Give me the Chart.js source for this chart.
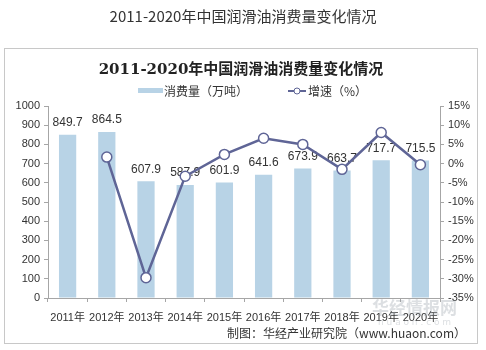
<!DOCTYPE html>
<html>
<head>
<meta charset="utf-8">
<script src="https://cdn.jsdelivr.net/npm/chart.js@4/dist/chart.umd.min.js"></script>
<style>
  html, body { margin: 0; padding: 0; background: #fff; }
  #wrap { position: relative; width: 486px; height: 350px; }
</style>
</head>
<body>
<div id="wrap"><canvas id="myChart" width="486" height="350"></canvas></div>
<script>
const years = ['2011年', '2012年', '2013年', '2014年', '2015年', '2016年', '2017年', '2018年', '2019年', '2020年'];
const consumption = [849.7, 864.5, 607.9, 587.9, 601.9, 641.6, 673.9, 663.7, 717.7, 715.5];
const growth = [null, 1.7, -29.7, -3.3, 2.4, 6.6, 5.0, -1.5, 8.1, -0.3];

const pageTitle = '2011-2020年中国润滑油消费量变化情况';
const footer = '制图：华经产业研究院（www.huaon.com）';

const barColor = 'rgb(184, 211, 230)';
const lineColor = 'rgb(95, 101, 150)';
const axisColor = '#a6a6a6';
const cjk = '"Liberation Sans", "Noto Sans CJK SC", sans-serif';

// outer title, frame, inner title, legend, footer
const decor = {
  id: 'decor',
  beforeDraw(chart) {
    const c = chart.ctx;
    c.save();
    c.fillStyle = '#fff';
    c.fillRect(0, 0, chart.width, chart.height);
    c.fillStyle = '#333';
    c.font = '15px "Noto Sans CJK SC", sans-serif';
    c.textAlign = 'center';
    c.textBaseline = 'middle';
    c.fillText(pageTitle, 243, 16);

    c.strokeStyle = '#c8c8c8';
    c.lineWidth = 1;
    c.strokeRect(4.5, 48.5, 473, 295);

    c.fillStyle = '#222';
    c.font = 'bold 15px "DejaVu Serif", "Noto Sans CJK SC", serif';
    c.fillText(pageTitle, 241, 70);

    // legend
    c.font = '12px "Noto Sans CJK SC", sans-serif';
    c.textAlign = 'left';
    c.fillStyle = barColor;
    c.fillRect(138, 88, 25, 5);
    c.fillStyle = '#333';
    c.fillText('消费量（万吨）', 164, 91);
    c.strokeStyle = lineColor;
    c.lineWidth = 2;
    c.beginPath();
    c.moveTo(288, 91);
    c.lineTo(306, 91);
    c.stroke();
    c.beginPath();
    c.arc(297, 91, 3, 0, Math.PI * 2);
    c.fillStyle = '#fff';
    c.fill();
    c.lineWidth = 1;
    c.stroke();
    c.fillStyle = '#333';
    c.fillText('增速（%）', 308, 91);

    c.textAlign = 'right';
    c.font = '12px "Noto Sans CJK SC", sans-serif';
    c.fillText(footer, 466, 333);
    c.restore();
  },
  afterDraw(chart) {
    const c = chart.ctx;
    c.save();
    c.globalAlpha = 0.35;
    c.fillStyle = '#9aa3ad';
    c.font = 'bold 17px "Noto Sans CJK SC", sans-serif';
    c.textAlign = 'left';
    c.textBaseline = 'middle';
    c.fillText('华经情报网', 372, 308);
    c.font = '9px "DejaVu Sans", sans-serif';
    c.fillText('h u a o n . c o m', 378, 323);
    c.restore();
  }
};

// value labels above the bars
const barLabels = {
  id: 'barLabels',
  afterDatasetDraw(chart, args) {
    if (args.index !== 0) return;
    const c = chart.ctx;
    const meta = chart.getDatasetMeta(0);
    c.save();
    c.fillStyle = '#333';
    c.font = '12px "Liberation Sans", sans-serif';
    c.textAlign = 'center';
    c.textBaseline = 'bottom';
    meta.data.forEach((bar, i) => {
      c.fillText(consumption[i].toFixed(1), bar.x, bar.y - 6);
    });
    c.restore();
  }
};

const ctx = document.getElementById('myChart');

const myChart = new Chart(ctx, {
  data: {
    labels: years,
    datasets: [{
      type: 'bar',
      label: '消费量（万吨）',
      data: consumption,
      backgroundColor: barColor,
      yAxisID: 'y',
      order: 1,
      barPercentage: 0.44,
      categoryPercentage: 1
    }, {
      type: 'line',
      label: '增速（%）',
      data: growth,
      borderColor: lineColor,
      borderWidth: 2.5,
      pointRadius: 5,
      pointBackgroundColor: '#fff',
      pointBorderColor: lineColor,
      pointBorderWidth: 1.5,
      yAxisID: 'y1',
      order: 0,
      tension: 0
    }]
  },
  options: {
    responsive: false,
    animation: false,
    layout: { padding: { top: 106, bottom: 24, left: 0, right: 0 } },
    plugins: {
      legend: { display: false },
      tooltip: { enabled: false }
    },
    scales: {
      x: {
        grid: { drawOnChartArea: false, tickLength: 4, color: axisColor, offset: true },
        border: { color: axisColor },
        ticks: { color: '#333', font: { family: cjk, size: 11 }, padding: 9, maxRotation: 0, autoSkip: false },
        afterFit(scale) { scale.height = 28; }
      },
      y: {
        position: 'left',
        min: 0,
        max: 1000,
        grid: { drawOnChartArea: false, tickLength: 4, color: axisColor },
        border: { color: axisColor },
        ticks: { stepSize: 100, color: '#333', font: { family: cjk, size: 11 }, padding: 4,
          callback: (v) => String(v) },
        afterFit(scale) { scale.width = 48; }
      },
      y1: {
        position: 'right',
        min: -35,
        max: 15,
        grid: { drawOnChartArea: false, tickLength: 4, color: axisColor },
        border: { color: axisColor },
        ticks: { stepSize: 5, color: '#333', font: { family: cjk, size: 11 }, padding: 4,
          callback: (v) => v + '%' },
        afterFit(scale) { scale.width = 46; }
      }
    }
  },
  plugins: [decor, barLabels]
});
</script>
</body>
</html>
